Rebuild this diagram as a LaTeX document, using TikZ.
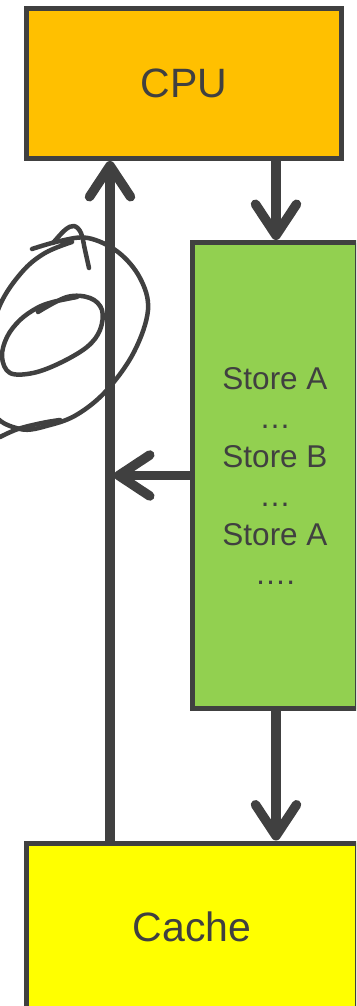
\documentclass[tikz,border=0pt]{standalone}
\usepackage{fontspec}
\setmainfont{Liberation Sans}
\usetikzlibrary{arrows.meta}
\definecolor{gris}{HTML}{404040}
\definecolor{orangecpu}{HTML}{FFC000}
\definecolor{vertstore}{HTML}{92D050}
\definecolor{jaunecache}{HTML}{FFFF00}
\tikzset{
  boite/.style={draw=gris, line width=5pt, text=gris, inner sep=0pt},
  fleche/.style={draw=gris, line width=9.5pt, -{Straight Barb[round, length=31pt, width=41pt]}},
  griffe/.style={draw=gris, line width=4.5pt, line cap=round, line join=round}
}
\begin{document}
\begin{tikzpicture}[x=1pt, y=-1pt]
			\useasboundingbox (0,0) rectangle (356,1006);
			\clip (0,0) rectangle (356,1006);
			%Noeuds du schema
			\node[boite, fill=orangecpu, minimum width=315pt, minimum height=150pt, font=\fontsize{41}{48}\selectfont] (CPU) at (184,83.5) {CPU};
			\node[boite, fill=vertstore, minimum width=165pt, minimum height=466pt, align=center, font=\fontsize{31.5}{39}\selectfont] (Store) at (275,475.5) {Store A\\…\\Store B\\…\\Store A\\….};
			\node[boite, fill=jaunecache, minimum width=331pt, minimum height=168pt, font=\fontsize{41}{48}\selectfont] (Cache) at (192,927) {Cache};
			\coordinate (monte) at (110,0);
			\coordinate (descente) at (276,0);
			\coordinate (retour) at (114,475.5);
			%Fleches
			\draw[fleche] (Cache.north -| monte) -- (CPU.south -| monte);
			\draw[fleche] (CPU.south -| descente) -- (Store.north -| descente);
			\draw[fleche] (Store.west |- retour) -- (retour);
			\draw[fleche] (Store.south -| descente) -- (Cache.north -| descente);
			%Griffonnage a main levee
			\draw[griffe] plot[smooth, tension=0.6] coordinates {(32,249) (60,241) (88,238) (118,252) (140,278) (148,310) (134,352) (107,390) (78,414) (50,425) (20,429) (-8,410) (-12,350) (0,305) (22,272) (45,253) (72,242)};
			\draw[griffe] plot[smooth, tension=0.6] coordinates {(0,437) (18,429) (42,423) (60,420)};
			\draw[griffe] plot[smooth, tension=0.6] coordinates {(38,312) (67,297) (90,298) (102,310) (100,330) (87,347) (60,363) (33,373) (10,373) (2,357) (7,337) (20,320) (37,308) (53,302) (77,297)};
			\draw[griffe] plot[smooth, tension=0.6] coordinates {(53,243) (65,230) (74,226) (81,233) (85,250) (89,268)};
		\end{tikzpicture}
\end{document}
